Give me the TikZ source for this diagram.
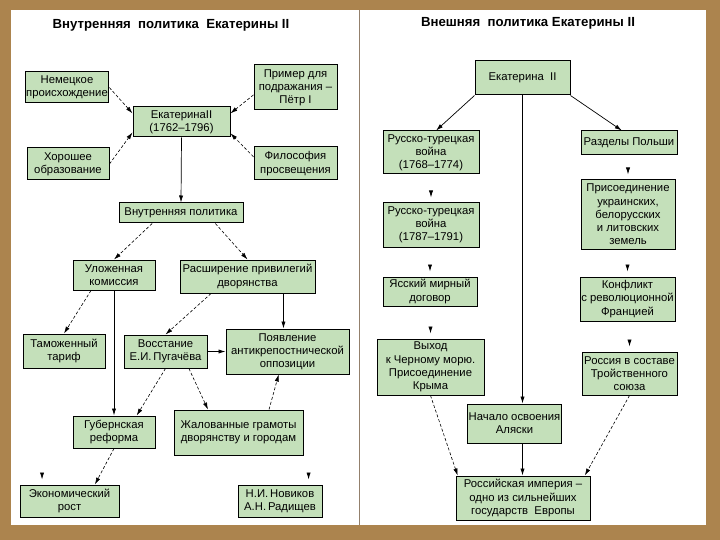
\documentclass[tikz,border=0pt]{standalone}
\usepackage{fontspec}
\setmainfont{Liberation Sans}
\usepackage{tikz}
\usetikzlibrary{arrows.meta}

\definecolor{zelen}{RGB}{196,224,186}
\definecolor{ramka}{RGB}{172,132,78}

\begin{document}
\begin{tikzpicture}[x=1pt,y=-1pt,>={Latex[length=7pt,width=4.2pt]},
        blok/.style={draw=black,line width=1pt,fill=zelen,align=center,inner sep=1pt,
                     font=\fontsize{11.3}{13.2}\selectfont},
        zag/.style={font=\bfseries\fontsize{13.2}{15}\selectfont},
        pr/.style={->,line width=0.7pt},
        kos/.style={->,line width=0.6pt,densely dashed},
        hvost/.style={->,line width=0.7pt,shorten >=5pt}]
  \fill[ramka,use as bounding box] (0,0) rectangle (720,540);
  \fill[white] (11,10) rectangle (706,525);
  \draw[gray!70!brown,line width=0.6pt] (359,10) -- (359,525);

  % vnutrennyaya politika
  \node [zag] (t1) at (171,25) {Внутренняя\ \ политика\ \ Екатерины II};
  \node [blok,minimum width=82pt,minimum height=31pt]  (nem)   at (67,87.5)    {Немецкое\\происхождение};
  \node [blok,minimum width=83pt,minimum height=45pt]  (primer) at (295.5,87.5) {Пример для\\подражания –\\Пётр I};
  \node [blok,minimum width=97pt,minimum height=30pt]  (ek)    at (181.5,122)   {ЕкатеринаII\\(1762–1796)};
  \node [blok,minimum width=82pt,minimum height=32pt]  (hor)   at (68,164)      {Хорошее\\образование};
  \node [blok,minimum width=83pt,minimum height=33pt]  (fil)   at (295.5,163.5) {Философия\\просвещения};
  \node [blok,minimum width=124pt,minimum height=20pt] (vnutr) at (181,213)      {Внутренняя политика};
  \node [blok,minimum width=82pt,minimum height=30pt]  (ulo)   at (114,275)      {Уложенная\\комиссия};
  \node [blok,minimum width=135pt,minimum height=33pt] (rash)  at (247.5,276.5)  {Расширение привилегий\\дворянства};
  \node [blok,minimum width=82pt,minimum height=34pt]  (tam)   at (64,351)       {Таможенный\\тариф};
  \node [blok,minimum width=83pt,minimum height=33pt]  (vos)   at (165.5,351.5)  {Восстание\\Е.И.\,Пугачёва};
  \node [blok,minimum width=123pt,minimum height=45pt] (poyav) at (287.5,351.5)  {Появление\\антикрепостнической\\оппозиции};
  \node [blok,minimum width=82pt,minimum height=32pt]  (gub)   at (114,432)      {Губернская\\реформа};
  \node [blok,minimum width=129pt,minimum height=45pt] (zhal)  at (238.5,432.5)  {Жалованные грамоты\\дворянству и городам};
  \node [blok,minimum width=99pt,minimum height=32pt]  (econ)  at (69.5,501)     {Экономический\\рост};
  \node [blok,minimum width=84pt,minimum height=32pt]  (nov)   at (280,501)      {Н.И.\,Новиков\\А.Н.\,Радищев};
  \coordinate (h1) at ([yshift=11pt]econ.149);
  \coordinate (h2) at ([yshift=11pt]nov.30);

  \path
  (nem.east)    edge [kos] (ek.170)
  (hor.east)    edge [kos] (ek.192)
  (primer.190)  edge [kos] (ek.10)
  (fil.171)     edge [kos] (ek.347)
  (ek.south)    edge [pr]  (vnutr.north)
  (vnutr.200)   edge [kos] (ulo.north)
  (vnutr.343)   edge [kos] (rash.north)
  (ulo.214)     edge [kos] (tam.north)
  (ulo.south)   edge [pr]  (gub.north)
  (rash.205)    edge [kos] (vos.north)
  (rash.south -| poyav.100) edge [pr] (poyav.100)
  (vos.east)    edge [pr]  (poyav.west)
  (vos.south)   edge [kos] (gub.36)
  (vos.324)     edge [kos] (zhal.143)
  (zhal.37)     edge [kos] (poyav.249)
  (gub.south)   edge [kos] (econ.33)
  (h1)          edge [hvost] (econ.149)
  (h2)          edge [hvost] (nov.30);

  % vneshnyaya politika
  \node [zag] (t2) at (528,23) {Внешняя\ \ политика Екатерины II};
  \node [blok,minimum width=95pt,minimum height=34pt]  (ek2)  at (522.5,78)    {Екатерина\ \ II};
  \node [blok,minimum width=96pt,minimum height=43pt]  (rt1)  at (431,152.5)   {Русско-турецкая\\война\\(1768–1774)};
  \node [blok,minimum width=96pt,minimum height=24pt]  (raz)  at (629,143)     {Разделы Польши};
  \node [blok,minimum width=96pt,minimum height=44pt]  (rt2)  at (431,225)     {Русско-турецкая\\война\\(1787–1791)};
  \node [blok,minimum width=94pt,minimum height=69pt]  (pris) at (628,214.5)   {Присоединение\\украинских,\\белорусских\\и литовских\\земель};
  \node [blok,minimum width=94pt,minimum height=29pt]  (yas)  at (430,291.5)   {Ясский мирный\\договор};
  \node [blok,minimum width=95pt,minimum height=44pt]  (konf) at (627.5,299)   {Конфликт\\с революционной\\Францией};
  \node [blok,minimum width=107pt,minimum height=56pt] (vyh)  at (430.5,367)   {Выход\\к Черному морю.\\Присоединение\\Крыма};
  \node [blok,minimum width=95pt,minimum height=43pt]  (ross) at (629.5,373.5)  {Россия в составе\\Тройственного\\союза};
  \node [blok,minimum width=81pt,minimum height=39pt]  (nach) at (514.5,423.5)  {Начало освоения\\Аляски};
  \node [blok,minimum width=134pt,minimum height=44pt] (imp)  at (523,498)     {Российская империя –\\одно из сильнейших\\государств\ \ Европы};
  \coordinate (h3) at ([yshift=11pt]rt2.north);
  \coordinate (h4) at ([yshift=11pt]yas.north);
  \coordinate (h5) at ([yshift=11pt]vyh.north);
  \coordinate (h6) at ([yshift=11pt]pris.north);
  \coordinate (h7) at ([yshift=11pt]konf.north);
  \coordinate (h8) at ([yshift=11pt]ross.north);

  \path
  (ek2.south west) edge [pr] (rt1.77)
  (ek2.south east) edge [pr] (raz.120)
  (ek2.south)      edge [pr] (ek2.south |- nach.north)
  (nach.south -| ek2.south) edge [pr] (ek2.south |- imp.north)
  (vyh.south)      edge [kos] (imp.161)
  (ross.south)     edge [kos] (imp.20)
  (h3) edge [hvost] (rt2.north)
  (h4) edge [hvost] (yas.north)
  (h5) edge [hvost] (vyh.north)
  (h6) edge [hvost] (pris.north)
  (h7) edge [hvost] (konf.north)
  (h8) edge [hvost] (ross.north);
\end{tikzpicture}
\end{document}
